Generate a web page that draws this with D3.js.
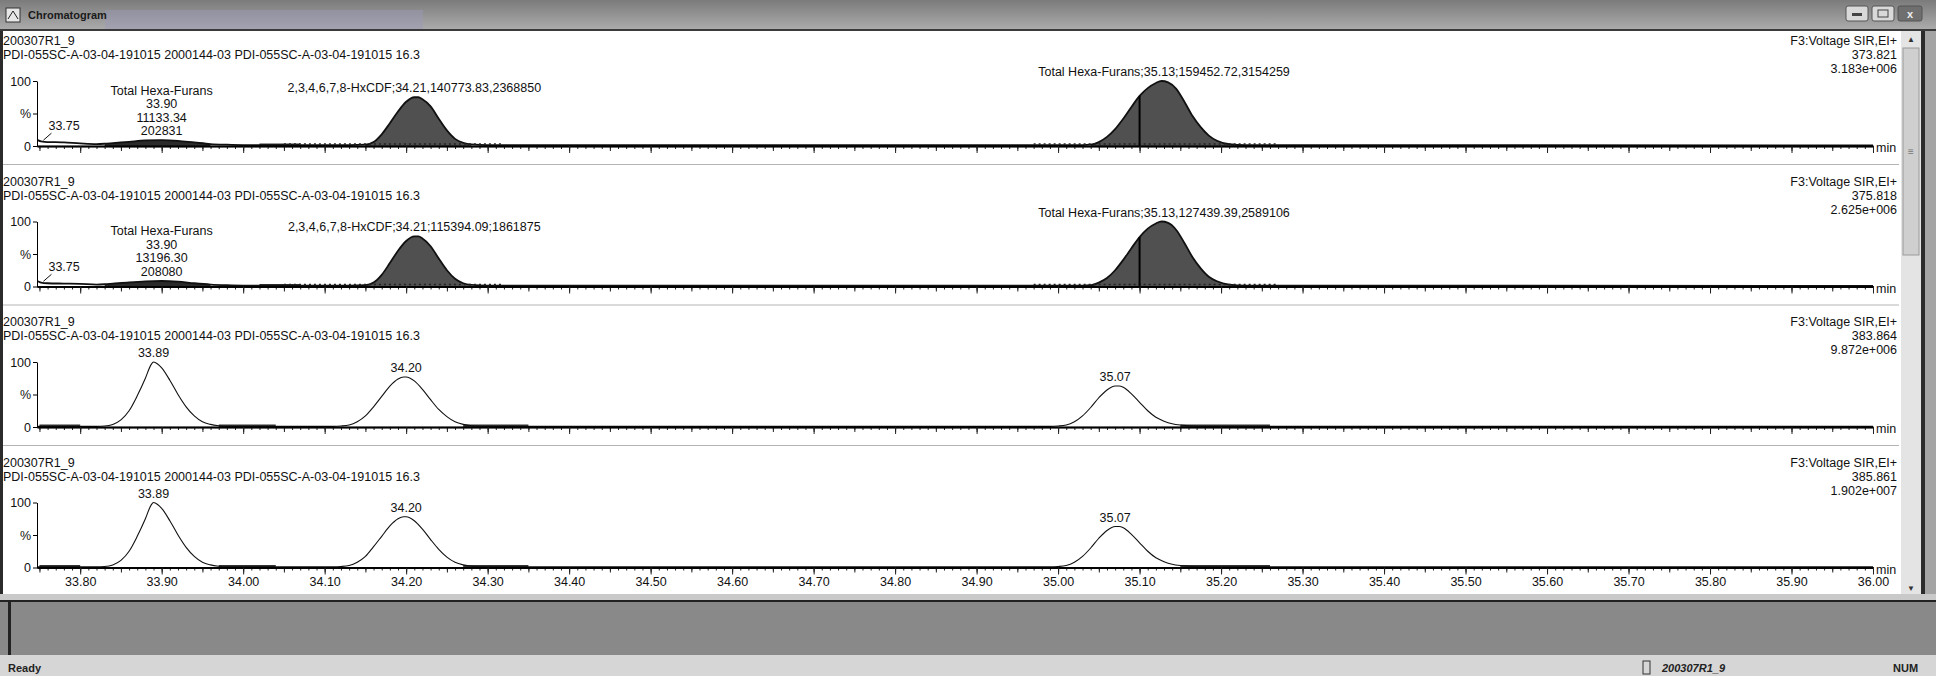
<!DOCTYPE html>
<html>
<head>
<meta charset="utf-8">
<script src="https://cdn.jsdelivr.net/npm/d3@7"></script>
<style>
body { margin: 0; background: #9c9c9c; }
svg { display: block; font-family: "Liberation Sans", Arial, sans-serif; }
.lbl { font-size: 12.5px; fill: #111; }
</style>
</head>
<body>
<svg id="chart" width="1936" height="676"></svg>
<script>
// ---------- data ----------
var sampleName = "200307R1_9";
var sampleDesc = "PDI-055SC-A-03-04-191015 2000144-03 PDI-055SC-A-03-04-191015 16.3";
var channelName = "F3:Voltage SIR,EI+";
var channelMass = ["373.821", "375.818", "383.864", "385.861"];
var channelMax = ["3.183e+006", "2.625e+006", "9.872e+006", "1.902e+007"];
var timeTicks = ["33.80", "33.90", "34.00", "34.10", "34.20", "34.30", "34.40", "34.50", "34.60", "34.70",
                 "34.80", "34.90", "35.00", "35.10", "35.20", "35.30", "35.40", "35.50", "35.60", "35.70",
                 "35.80", "35.90", "36.00"];

// traces: [time (min), % of channel max]
var trace1 = [[33.748, 9], [33.752, 7], [33.76, 6], [33.77, 6], [33.78, 5.5], [33.80, 4], [33.82, 3],
  [33.83, 3.5], [33.84, 4.5], [33.86, 6.5], [33.88, 8.5], [33.90, 9], [33.92, 8], [33.94, 5.5], [33.96, 3],
  [33.98, 2], [34.00, 1.5], [34.13, 1.5], [34.15, 2], [34.16, 6], [34.17, 18], [34.18, 35], [34.19, 53],
  [34.20, 68], [34.21, 75], [34.215, 75], [34.22, 72], [34.23, 61], [34.24, 42], [34.25, 24], [34.26, 11],
  [34.27, 5], [34.28, 2.5], [34.30, 1.5], [35.03, 1.5], [35.04, 2], [35.05, 6], [35.06, 14], [35.07, 26],
  [35.08, 42], [35.09, 60], [35.10, 77], [35.11, 89], [35.12, 97], [35.127, 100], [35.135, 98], [35.145, 88],
  [35.155, 68], [35.165, 46], [35.175, 29], [35.185, 16], [35.195, 8], [35.21, 3], [35.23, 1.5], [36.00, 1]];
var trace2 = [[33.748, 8], [33.752, 6], [33.76, 5], [33.78, 4.5], [33.80, 4], [33.82, 3], [33.83, 3.5],
  [33.84, 4.5], [33.86, 6.5], [33.88, 8], [33.90, 8.5], [33.92, 7.5], [33.94, 5], [33.96, 3], [33.98, 2],
  [34.00, 1.5], [34.13, 1.5], [34.15, 2], [34.16, 6], [34.17, 18], [34.18, 36], [34.19, 55], [34.20, 70],
  [34.21, 77], [34.215, 77], [34.22, 74], [34.23, 62], [34.24, 43], [34.25, 25], [34.26, 12], [34.27, 5],
  [34.28, 2.5], [34.30, 1.5], [35.03, 1.5], [35.04, 2], [35.05, 6], [35.06, 13], [35.07, 25], [35.08, 41],
  [35.09, 59], [35.10, 76], [35.11, 89], [35.12, 97], [35.127, 100], [35.135, 98], [35.145, 87], [35.155, 67],
  [35.165, 45], [35.175, 28], [35.185, 15], [35.195, 8], [35.21, 3], [35.23, 1.5], [36.00, 1]];
var trace3 = [[33.748, 1], [33.82, 1], [33.83, 1.5], [33.84, 4], [33.85, 11], [33.86, 25], [33.87, 48],
  [33.88, 75], [33.887, 96], [33.89, 100], [33.895, 97], [33.90, 91], [33.91, 72], [33.92, 50], [33.93, 31],
  [33.94, 17], [33.95, 8], [33.96, 4], [33.97, 2], [33.98, 1], [34.11, 1], [34.12, 1.5], [34.13, 3], [34.14, 8],
  [34.15, 17], [34.16, 31], [34.17, 47], [34.18, 63], [34.19, 74], [34.197, 77], [34.20, 77], [34.21, 71],
  [34.22, 58], [34.23, 42], [34.24, 27], [34.25, 16], [34.26, 8], [34.27, 4], [34.28, 2], [34.30, 1],
  [34.99, 1], [35.00, 1.5], [35.01, 3], [35.02, 8], [35.03, 17], [35.04, 30], [35.05, 45], [35.06, 57],
  [35.07, 63], [35.075, 63], [35.08, 61], [35.09, 51], [35.10, 38], [35.11, 25], [35.12, 15], [35.13, 9],
  [35.14, 5], [35.15, 3], [35.16, 2], [35.18, 1], [36.00, 1]];
var trace4 = [[33.748, 1], [33.82, 1], [33.83, 1.5], [33.84, 4], [33.85, 11], [33.86, 25], [33.87, 48],
  [33.88, 75], [33.887, 96], [33.89, 100], [33.895, 97], [33.90, 91], [33.91, 72], [33.92, 50], [33.93, 31],
  [33.94, 17], [33.95, 8], [33.96, 4], [33.97, 2], [33.98, 1], [34.11, 1], [34.12, 1.5], [34.13, 3], [34.14, 8],
  [34.15, 17], [34.16, 32], [34.17, 48], [34.18, 64], [34.19, 75], [34.197, 78], [34.20, 78], [34.21, 72],
  [34.22, 59], [34.23, 43], [34.24, 28], [34.25, 16], [34.26, 8], [34.27, 4], [34.28, 2], [34.30, 1],
  [34.99, 1], [35.00, 1.5], [35.01, 3], [35.02, 8], [35.03, 17], [35.04, 30], [35.05, 45], [35.06, 57],
  [35.07, 63], [35.075, 63], [35.08, 61], [35.09, 51], [35.10, 38], [35.11, 25], [35.12, 15], [35.13, 9],
  [35.14, 5], [35.15, 3], [35.16, 2], [35.18, 1], [36.00, 1]];

// peak annotations: time + text lines
var peaks1 = [{t: 33.75, text: ["33.75"]},
  {t: 33.90, text: ["Total Hexa-Furans", "33.90", "11133.34", "202831"]},
  {t: 34.21, text: ["2,3,4,6,7,8-HxCDF;34.21,140773.83,2368850"]},
  {t: 35.13, text: ["Total Hexa-Furans;35.13;159452.72,3154259"]}];
var peaks2 = [{t: 33.75, text: ["33.75"]},
  {t: 33.90, text: ["Total Hexa-Furans", "33.90", "13196.30", "208080"]},
  {t: 34.21, text: ["2,3,4,6,7,8-HxCDF;34.21;115394.09;1861875"]},
  {t: 35.13, text: ["Total Hexa-Furans;35.13,127439.39,2589106"]}];
var peaks3 = [{t: 33.89, text: ["33.89"]}, {t: 34.20, text: ["34.20"]}, {t: 35.07, text: ["35.07"]}];
var peaks4 = [{t: 33.89, text: ["33.89"]}, {t: 34.20, text: ["34.20"]}, {t: 35.07, text: ["35.07"]}];

// integrated (filled) ranges, integration baselines, drop lines, heavy noise stretches on the baseline
var fills12 = [[33.83, 33.96], [34.15, 34.29], [35.035, 35.235]];
var intBase12 = [[34.05, 34.32], [34.97, 35.27]];
var drops12 = [35.10];
var noise12 = [[34.02, 34.07]];
var noise34 = [[33.75, 33.80], [33.97, 34.04], [34.27, 34.35], [35.15, 35.26]];

var panels = [
  {trace: trace1, peaks: peaks1, fills: fills12, ib: intBase12, drops: drops12, noise: noise12},
  {trace: trace2, peaks: peaks2, fills: fills12, ib: intBase12, drops: drops12, noise: noise12},
  {trace: trace3, peaks: peaks3, fills: [], ib: [], drops: [], noise: noise34},
  {trace: trace4, peaks: peaks4, fills: [], ib: [], drops: [], noise: noise34}
];

// ---------- layout ----------
var W = 1936, H = 676;
var svg = d3.select("#chart");
var x = d3.scaleLinear().domain([33.747, 36.0]).range([37, 1873]);
var baselines = [146, 286.5, 427, 567.5];
var plotH = 65;

drawChrome();
panels.forEach(function (p, i) { drawPanel(p, i); });

function drawChrome()
{
    var defs = svg.append("defs");
    var g1 = defs.append("linearGradient").attr("id", "titleGrad").attr("x1", 0).attr("y1", 0).attr("x2", 0).attr("y2", 1);
    g1.append("stop").attr("offset", "0%").attr("stop-color", "#7b7b7b");
    g1.append("stop").attr("offset", "100%").attr("stop-color", "#acacac");

    svg.append("rect").attr("width", W).attr("height", H).attr("fill", "#a4a4a4");
    svg.append("rect").attr("width", W).attr("height", 30).attr("fill", "url(#titleGrad)");
    svg.append("rect").attr("x", 105).attr("y", 10).attr("width", 318).attr("height", 20)
        .attr("fill", "#9c98b8").attr("opacity", 0.45);

    // title
    svg.append("rect").attr("x", 6).attr("y", 8).attr("width", 14).attr("height", 14)
        .attr("fill", "#e6e6e6").attr("stroke", "#333");
    svg.append("path").attr("d", "M8,19 L13,11 L18,19").attr("fill", "none").attr("stroke", "#222");
    svg.append("text").attr("x", 28).attr("y", 15).attr("dominant-baseline", "central")
        .attr("font-size", 11).attr("font-weight", "bold").attr("fill", "#1a1a1a").text("Chromatogram");

    // window buttons
    var btns = [[1846, 22, "min"], [1872, 22, "max"], [1898, 24, "close"]];
    btns.forEach(function (b) {
        svg.append("rect").attr("x", b[0]).attr("y", 6).attr("width", b[1]).attr("height", 15).attr("rx", 2)
            .attr("fill", b[2] == "close" ? "#6f6f6f" : "#d9d9d9").attr("stroke", "#555");
    });
    svg.append("rect").attr("x", 1852).attr("y", 13).attr("width", 10).attr("height", 3).attr("fill", "#444");
    svg.append("rect").attr("x", 1878).attr("y", 10).attr("width", 10).attr("height", 7).attr("fill", "none").attr("stroke", "#444");
    svg.append("text").attr("x", 1910).attr("y", 14).attr("dominant-baseline", "central").attr("text-anchor", "middle")
        .attr("font-size", 11).attr("font-weight", "bold").attr("fill", "#eee").text("x");

    svg.append("rect").attr("x", 0).attr("y", 29).attr("width", W).attr("height", 2).attr("fill", "#3a3a3a");

    // white plot window
    svg.append("rect").attr("x", 3).attr("y", 31).attr("width", 1898).attr("height", 563).attr("fill", "#fff");
    svg.append("rect").attr("x", 0).attr("y", 31).attr("width", 3).attr("height", 570).attr("fill", "#2b2b2b");

    // scrollbar
    svg.append("rect").attr("x", 1901).attr("y", 31).attr("width", 20).attr("height", 563).attr("fill", "#e4e4e4");
    svg.append("rect").attr("x", 1903).attr("y", 48).attr("width", 16).attr("height", 207).attr("fill", "#cfcfcf")
        .attr("stroke", "#9a9a9a");
    svg.append("text").attr("x", 1911).attr("y", 151).attr("dominant-baseline", "central").attr("text-anchor", "middle")
        .attr("font-size", 10).attr("fill", "#777").text("≡");
    svg.append("text").attr("x", 1911).attr("y", 39).attr("dominant-baseline", "central").attr("text-anchor", "middle")
        .attr("font-size", 8).attr("fill", "#333").text("▲");
    svg.append("text").attr("x", 1911).attr("y", 588).attr("dominant-baseline", "central").attr("text-anchor", "middle")
        .attr("font-size", 8).attr("fill", "#333").text("▼");
    svg.append("rect").attr("x", 1921).attr("y", 31).attr("width", 4).attr("height", 570).attr("fill", "#2b2b2b");

    // lower grey area and status bar
    svg.append("rect").attr("x", 0).attr("y", 594).attr("width", W).attr("height", 6).attr("fill", "#c9c9c9");
    svg.append("rect").attr("x", 0).attr("y", 600).attr("width", W).attr("height", 2).attr("fill", "#222");
    svg.append("rect").attr("x", 0).attr("y", 602).attr("width", W).attr("height", 53).attr("fill", "#898989");
    svg.append("rect").attr("x", 8).attr("y", 602).attr("width", 3).attr("height", 53).attr("fill", "#222");
    svg.append("rect").attr("x", 0).attr("y", 655).attr("width", W).attr("height", 21).attr("fill", "#d6d6d6");
    svg.append("text").attr("x", 8).attr("y", 668).attr("dominant-baseline", "central")
        .attr("font-size", 11).attr("font-weight", "bold").attr("fill", "#222").text("Ready");
    svg.append("rect").attr("x", 1643).attr("y", 661).attr("width", 7).attr("height", 13).attr("fill", "none").attr("stroke", "#333");
    svg.append("text").attr("x", 1662).attr("y", 668).attr("dominant-baseline", "central")
        .attr("font-size", 11).attr("font-weight", "bold").attr("font-style", "italic").attr("fill", "#222").text(sampleName);
    svg.append("text").attr("x", 1893).attr("y", 668).attr("dominant-baseline", "central")
        .attr("font-size", 11).attr("font-weight", "bold").attr("fill", "#222").text("NUM");
}

function drawPanel(p, i)
{
    var base = baselines[i];
    var y = d3.scaleLinear().domain([0, 100]).range([base, base - plotH]);
    var g = svg.append("g").attr("class", "panel");

    // separator above the panel
    if (i > 0) {
        g.append("line").attr("x1", 3).attr("x2", 1899).attr("y1", base - 122).attr("y2", base - 122)
            .attr("stroke", "#b4b4b4");
    }

    // header and channel text
    g.append("text").attr("class", "lbl").attr("x", 3).attr("y", base - 105).attr("dominant-baseline", "central").text(sampleName);
    g.append("text").attr("class", "lbl").attr("x", 3).attr("y", base - 91).attr("dominant-baseline", "central").text(sampleDesc);
    [channelName, channelMass[i], channelMax[i]].forEach(function (s, k) {
        g.append("text").attr("class", "lbl").attr("x", 1897).attr("y", base - 105 + k * 14)
            .attr("text-anchor", "end").attr("dominant-baseline", "central").text(s);
    });

    // heavy baseline noise
    p.noise.forEach(function (n) {
        g.append("line").attr("x1", x(n[0])).attr("x2", x(n[1])).attr("y1", base - 1).attr("y2", base - 1)
            .attr("stroke", "#333").attr("stroke-width", 3);
    });

    // filled integrated peaks
    var area = d3.area().x(function (d) { return x(d[0]); }).y0(base).y1(function (d) { return y(d[1]); })
        .curve(d3.curveMonotoneX);
    p.fills.forEach(function (f, k) {
        var pts = p.trace.filter(function (d) { return d[0] >= f[0] && d[0] <= f[1]; });
        g.append("path").datum(pts).attr("d", area).attr("fill", k == 0 ? "#2a2a2a" : "#505050");
    });

    // trace
    var line = d3.line().x(function (d) { return x(d[0]); }).y(function (d) { return y(d[1]); })
        .curve(d3.curveMonotoneX);
    g.append("path").datum(p.trace).attr("d", line).attr("fill", "none")
        .attr("stroke", "#111").attr("stroke-width", p.fills.length ? 1.8 : 1.1);

    // integration baselines and drop lines
    p.ib.forEach(function (b) {
        g.append("line").attr("x1", x(b[0])).attr("x2", x(b[1])).attr("y1", base - 2).attr("y2", base - 2)
            .attr("stroke", "#222").attr("stroke-width", 1.5).attr("stroke-dasharray", "2,3");
    });
    p.drops.forEach(function (t) {
        var pt = p.trace.filter(function (d) { return d[0] == t; })[0];
        g.append("line").attr("x1", x(t)).attr("x2", x(t)).attr("y1", base).attr("y2", y(pt[1]))
            .attr("stroke", "#000").attr("stroke-width", 2);
    });

    // x axis (minor, medium, major ticks)
    var axG = g.append("g").attr("transform", "translate(0," + base + ")");
    axG.append("g").call(d3.axisBottom(x).tickValues(x.ticks(220)).tickSize(3).tickSizeOuter(0).tickFormat(""));
    axG.append("g").call(d3.axisBottom(x).tickValues(d3.range(33.75, 36.001, 0.05)).tickSize(5).tickSizeOuter(0).tickFormat(""));
    axG.append("g").call(d3.axisBottom(x).tickValues(timeTicks.map(Number)).tickSize(7).tickSizeOuter(0)
        .tickFormat(function (d, k) { return i == 3 ? timeTicks[k] : ""; }));
    axG.selectAll("text").attr("font-size", 12.5).attr("fill", "#111").attr("font-family", "Liberation Sans, Arial, sans-serif");
    axG.selectAll("path.domain").attr("stroke", "#000").attr("stroke-width", 1.5);
    axG.selectAll(".tick line").attr("stroke", "#222");
    g.append("text").attr("class", "lbl").attr("x", 1876).attr("y", base + 2).attr("dominant-baseline", "central").text("min");

    // y axis
    var yG = g.append("g").attr("transform", "translate(" + x.range()[0] + ",0)");
    yG.call(d3.axisLeft(y).tickValues([0, 50, 100]).tickSize(4).tickSizeOuter(0).tickPadding(2)
        .tickFormat(function (d) { return d == 50 ? "%" : d; }));
    yG.selectAll("text").attr("font-size", 12.5).attr("fill", "#111").attr("font-family", "Liberation Sans, Arial, sans-serif");
    yG.selectAll("path.domain").attr("stroke", "#000");

    // peak annotations
    p.peaks.forEach(function (pk) {
        var near = p.trace.filter(function (d) { return Math.abs(d[0] - pk.t) <= 0.02; });
        var top = d3.max(near, function (d) { return d[1]; });
        var yTop = y(top);
        if (pk.text[0] == "33.75") {
            g.append("text").attr("class", "lbl").attr("x", x(pk.t) + 9).attr("y", yTop - 14)
                .attr("dominant-baseline", "central").text(pk.text[0]);
            g.append("path").attr("d", "M" + (x(pk.t) + 12) + "," + (yTop - 7) + " L" + (x(pk.t) + 4) + "," + yTop)
                .attr("stroke", "#111").attr("fill", "none");
            return;
        }
        var n = pk.text.length;
        pk.text.forEach(function (s, k) {
            g.append("text").attr("class", "lbl").attr("x", x(pk.t)).attr("y", yTop - 9 - (n - 1 - k) * 13.5)
                .attr("text-anchor", "middle").attr("dominant-baseline", "central").text(s);
        });
    });
}
</script>
</body>
</html>
